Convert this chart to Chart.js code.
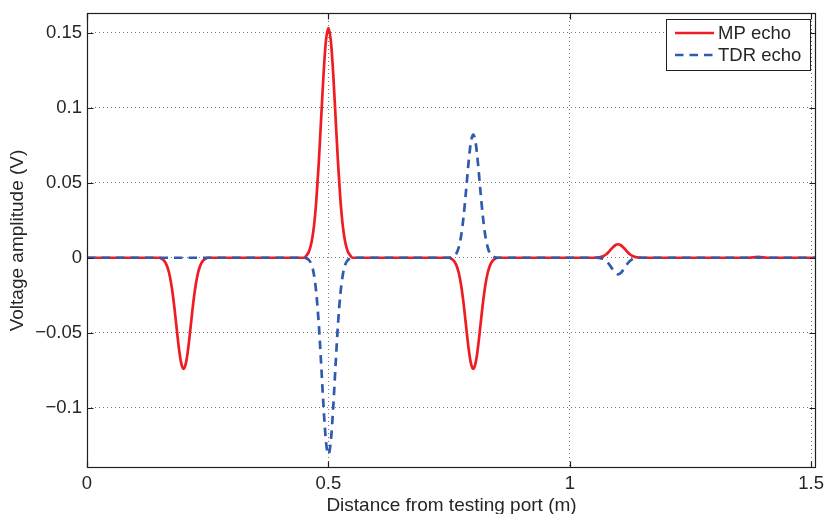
<!DOCTYPE html>
<html><head><meta charset="utf-8">
<script src="https://cdn.jsdelivr.net/npm/chart.js@4/dist/chart.umd.min.js"></script>
<style>html,body{margin:0;padding:0;background:#fff}#wrap{position:relative;width:824px;height:514px}</style>
</head><body><div id="wrap"><canvas id="c" width="824" height="514"></canvas></div>
<script>
const distance = [0,
0.15,0.155,0.16,0.165,0.17,0.175,0.18,0.185,0.19,0.195,0.2,0.205,0.21,0.215,0.22,0.225,0.23,0.235,0.24,0.245,0.25,
0.45,0.455,0.46,0.465,0.47,0.475,0.48,0.485,0.49,0.495,0.5,0.505,0.51,0.515,0.52,0.525,0.53,0.535,0.54,0.545,0.55,
0.75,0.755,0.76,0.765,0.77,0.775,0.78,0.785,0.79,0.795,0.8,0.805,0.81,0.815,0.82,0.825,0.83,0.835,0.84,0.845,0.85,
1.05,1.055,1.06,1.065,1.07,1.075,1.08,1.085,1.09,1.095,1.1,1.105,1.11,1.115,1.12,1.125,1.13,1.135,1.14,1.145,1.15,
1.37,1.39,1.41,1.51];

const mpEcho = [0,
0,-0.0008,-0.0021,-0.0049,-0.01,-0.0185,-0.0304,-0.0449,-0.0593,-0.07,-0.074,-0.07,-0.0593,-0.0449,-0.0304,-0.0185,-0.01,-0.0049,-0.0021,-0.0008,0,
0,0.0017,0.0044,0.0101,0.0207,0.0382,0.0629,0.0928,0.1225,0.1447,0.153,0.1447,0.1225,0.0928,0.0629,0.0382,0.0207,0.0101,0.0044,0.0017,0,
0,-0.0008,-0.0021,-0.0049,-0.01,-0.0185,-0.0304,-0.0449,-0.0593,-0.07,-0.074,-0.07,-0.0593,-0.0449,-0.0304,-0.0185,-0.01,-0.0049,-0.0021,-0.0008,0,
0,0.0001,0.0003,0.0006,0.0012,0.0022,0.0037,0.0055,0.0072,0.0085,0.009,0.0085,0.0072,0.0055,0.0037,0.0022,0.0012,0.0006,0.0003,0.0001,0,
0,0.0006,0,0];

const tdrEcho = [0,
0,0,0,0,0,0,0,0,0,0,0,0,0,0,0,0,0,0,0,0,0,
0,-0.0005,-0.0016,-0.0045,-0.0111,-0.0236,-0.0437,-0.0707,-0.0996,-0.1223,-0.131,-0.1223,-0.0996,-0.0707,-0.0437,-0.0236,-0.0111,-0.0045,-0.0016,-0.0005,0,
0,0.0003,0.001,0.0028,0.0069,0.0148,0.0274,0.0442,0.0623,0.0766,0.082,0.0766,0.0623,0.0442,0.0274,0.0148,0.0069,0.0028,0.001,0.0003,0,
0,0,-0.0001,-0.0004,-0.0009,-0.002,-0.0037,-0.0059,-0.0084,-0.0103,-0.011,-0.0103,-0.0084,-0.0059,-0.0037,-0.002,-0.0009,-0.0004,-0.0001,0,0,
0,0,0,0];

const xTickValues = [0, 0.5, 1, 1.5];
const yTickValues = [-0.1, -0.05, 0, 0.05, 0.1, 0.15];
const seriesNames = ['MP echo', 'TDR echo'];
const xTitle = 'Distance from testing port (m)';
const yTitle = 'Voltage amplitude (V)';

const FONT = "'Liberation Sans', Arial, Helvetica, sans-serif";
const TXT = '#262626';
const RED = '#ee1d23';
const BLUE = '#2f5aae';
const DASH = [8.5, 6];

function fmt(v) {
  if (Math.abs(v) < 1e-12) return '0';
  const s = String(parseFloat(Math.abs(v).toFixed(4)));
  return (v < 0 ? '\u2212' : '') + s;
}

const frame = {
  id: 'frame',
  afterDatasetsDraw(chart) {
    const {ctx, chartArea: a, scales: {x, y}} = chart;
    ctx.save();
    ctx.strokeStyle = '#1f1f1f';
    ctx.lineWidth = 1.2;
    const L = Math.round(a.left) + 0.5, R = Math.round(a.right) - 0.5;
    const T = Math.round(a.top) + 0.5, B = Math.round(a.bottom) - 0.5;
    ctx.strokeRect(L, T, R - L, B - T);
    ctx.beginPath();
    const tl = 6;
    xTickValues.forEach(v => {
      const px = Math.round(x.getPixelForValue(v)) + 0.5;
      ctx.moveTo(px, B); ctx.lineTo(px, B - tl);
      ctx.moveTo(px, T); ctx.lineTo(px, T + tl);
    });
    yTickValues.forEach(v => {
      const py = Math.round(y.getPixelForValue(v)) + 0.5;
      ctx.moveTo(L, py); ctx.lineTo(L + tl, py);
      ctx.moveTo(R, py); ctx.lineTo(R - tl, py);
    });
    ctx.stroke();

    // legend
    const bx = 666.5, by = 19.5, bw = 144, bh = 51;
    ctx.fillStyle = '#fff';
    ctx.fillRect(bx, by, bw, bh);
    ctx.lineWidth = 1;
    ctx.strokeStyle = '#1f1f1f';
    ctx.strokeRect(bx, by, bw, bh);
    const rows = [33, 55];
    chart.data.datasets.slice().sort((p, q) => p.legendIndex - q.legendIndex).forEach((ds, i) => {
      const yy = rows[i];
      ctx.beginPath();
      ctx.strokeStyle = ds.borderColor;
      ctx.lineWidth = ds.borderWidth;
      ctx.setLineDash(ds.borderDash || []);
      ctx.moveTo(675, yy); ctx.lineTo(714, yy);
      ctx.stroke();
      ctx.setLineDash([]);
      ctx.fillStyle = TXT;
      ctx.font = '18.5px ' + FONT;
      ctx.textBaseline = 'middle';
      ctx.textAlign = 'left';
      ctx.fillText(ds.label, 718, yy + 1);
    });
    ctx.restore();
  }
};

const ctx = document.getElementById('c').getContext('2d');
new Chart(ctx, {
  type: 'line',
  data: {
    datasets: [
      {
        label: seriesNames[0], legendIndex: 0, order: 1,
        data: distance.map((d, i) => ({x: d, y: mpEcho[i]})),
        borderColor: RED, borderWidth: 2.7, pointRadius: 0, fill: false, cubicInterpolationMode: 'monotone'
      },
      {
        label: seriesNames[1], legendIndex: 1, order: 0,
        data: distance.map((d, i) => ({x: d, y: tdrEcho[i]})),
        borderColor: BLUE, borderWidth: 2.7, borderDash: DASH, pointRadius: 0, fill: false, cubicInterpolationMode: 'monotone'
      }
    ]
  },
  options: {
    responsive: false,
    animation: false,
    devicePixelRatio: 1,
    layout: {padding: {left: 0, right: 8, top: 13, bottom: 0}},
    plugins: {legend: {display: false}, tooltip: {enabled: false}},
    scales: {
      x: {
        type: 'linear', min: 0, max: 1.51,
        afterBuildTicks: s => { s.ticks = xTickValues.map(v => ({value: v})); },
        afterFit: s => { s.height = 46; s.paddingLeft = 0; s.paddingRight = 0; },
        ticks: {callback: v => fmt(v), font: {family: FONT, size: 18.5}, color: TXT, padding: 5, maxRotation: 0, autoSkip: false},
        grid: {color: '#7a7a7a', lineWidth: 1, drawTicks: false},
        border: {display: false, dash: [1, 3]},
        title: {display: true, text: xTitle, font: {family: FONT, size: 19}, color: TXT, padding: {top: 0, bottom: -3}}
      },
      y: {
        type: 'linear', min: -0.14, max: 0.163,
        afterBuildTicks: s => { s.ticks = yTickValues.map(v => ({value: v})); },
        afterFit: s => { s.width = 87; s.paddingTop = 0; s.paddingBottom = 0; },
        ticks: {callback: v => fmt(v), font: {family: FONT, size: 18.5}, color: TXT, padding: 5, autoSkip: false},
        grid: {color: '#7a7a7a', lineWidth: 1, drawTicks: false},
        border: {display: false, dash: [1, 3]},
        title: {display: true, text: yTitle, font: {family: FONT, size: 19}, color: TXT, padding: {top: 6, bottom: 0}}
      }
    }
  },
  plugins: [frame]
});
</script>
</body></html>
